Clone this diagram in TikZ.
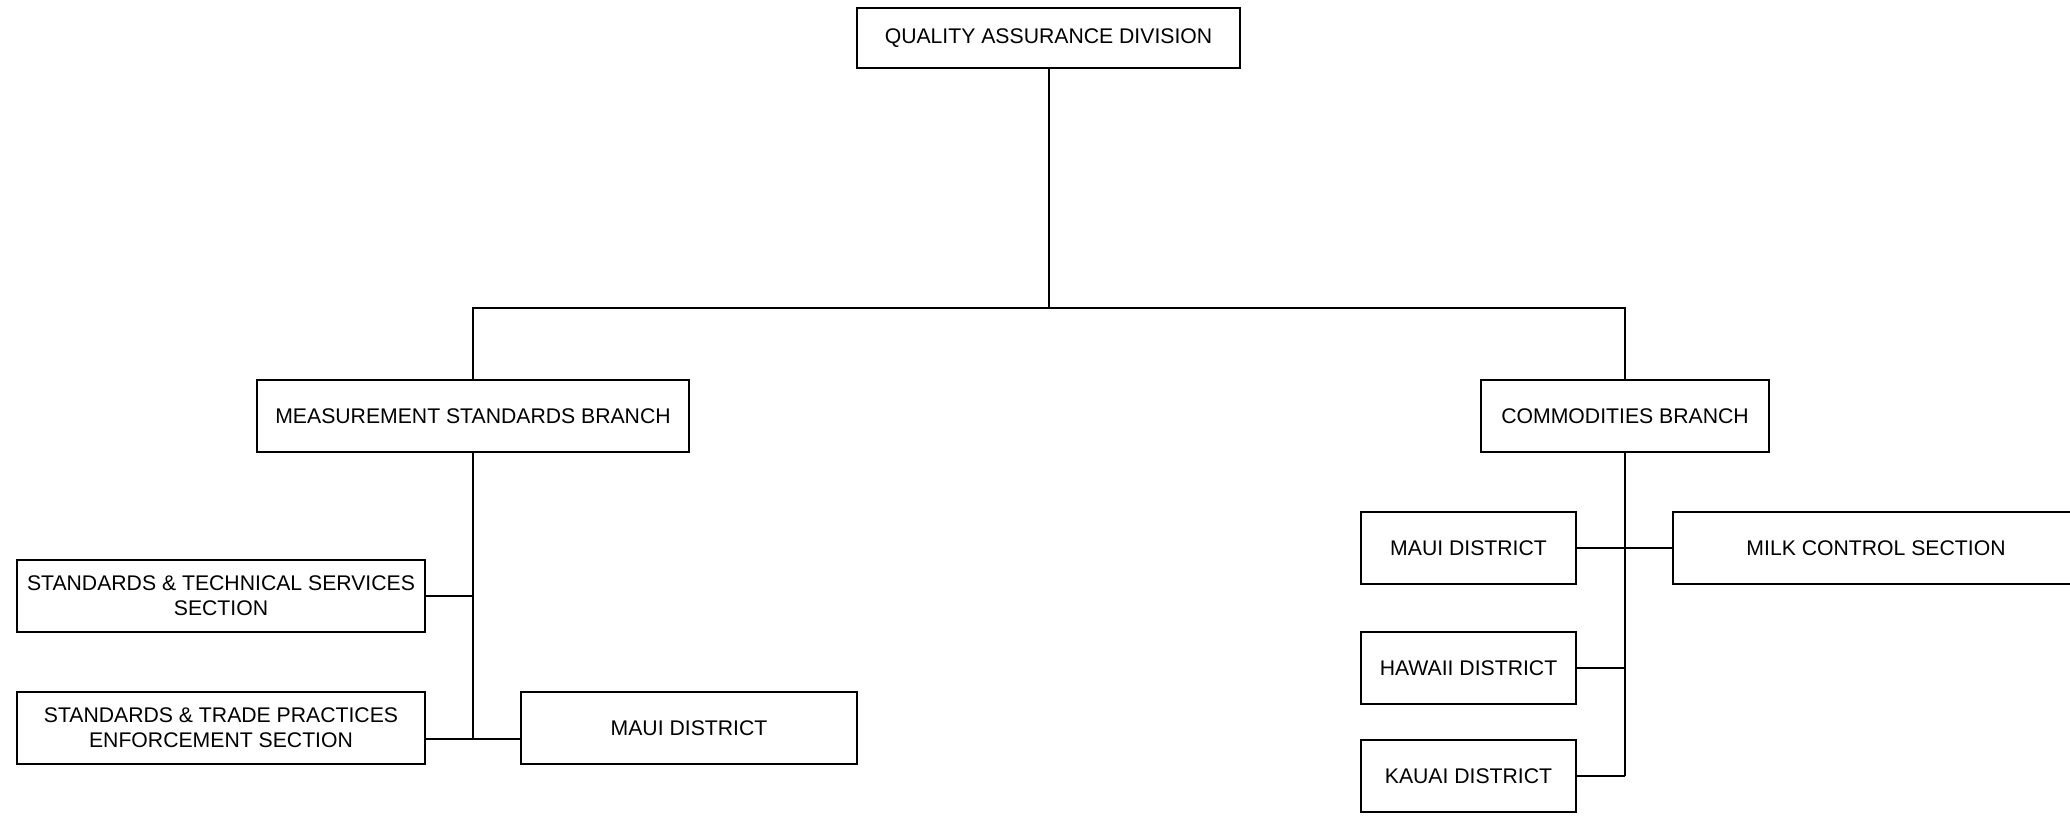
\documentclass[tikz,border=0pt]{standalone}
\usepackage{fontspec}
\setmainfont{Liberation Sans}
\usepackage{tikz}
\usetikzlibrary{positioning, calc}

\begin{document}
\begin{tikzpicture}[
    x=0.5pt, y=-0.5pt,
    unit/.style={draw, line width=1pt, inner sep=0pt, align=center,
                 minimum height=36pt, font=\fontsize{10.6}{12.5}\selectfont},
    link/.style={line width=1pt}
]
    \useasboundingbox (0,0) rectangle (2070,817);

    % Division
    \node[unit, minimum width=191.5pt, minimum height=30pt] (qad) at (1048.5, 38) {QUALITY ASSURANCE DIVISION};
    \coordinate (bus) at (1048.5, 308);

    % Branches
    \node[unit, minimum width=216pt] (msb) at (473, 416) {MEASUREMENT STANDARDS BRANCH};
    \node[unit, minimum width=144pt] (cb) at (1625, 416) {COMMODITIES BRANCH};

    % Measurement standards units
    \node[unit, minimum width=204pt] (sts) at (221, 596) {STANDARDS \& TECHNICAL SERVICES\\SECTION};
    \node[unit, minimum width=204pt] (stp) at (221, 728) {STANDARDS \& TRADE PRACTICES\\ENFORCEMENT SECTION};
    \node[unit, minimum width=168pt] (mauiA) at (689, 728) {MAUI DISTRICT};
    \coordinate (msbEnd) at (473, 739);

    % Commodities units
    \node[unit, minimum width=107.5pt] (mauiB) at (1468.5, 548) {MAUI DISTRICT};
    \node[unit, minimum width=203pt] (milk) at (1876, 548) {MILK CONTROL SECTION};
    \node[unit, minimum width=107.5pt] (hawaii) at (1468.5, 668) {HAWAII DISTRICT};
    \node[unit, minimum width=107.5pt] (kauai) at (1468.5, 776) {KAUAI DISTRICT};
    \coordinate (cbEnd) at (1625, 776);

    % Connectors
    \draw[link] (qad.south) -- (bus);
    \draw[link] (msb.north) |- (bus) -| (cb.north);

    \draw[link] (msb.south) -- (msbEnd);
    \draw[link] (sts.east) -- (sts.east -| msb.south);
    \draw[link] (stp.east |- msbEnd) -- (mauiA.west |- msbEnd);

    \draw[link] (cb.south) -- (cbEnd);
    \draw[link] (mauiB.east) -- (milk.west);
    \draw[link] (hawaii.east) -- (hawaii.east -| cb.south);
    \draw[link] (kauai.east) -- (cbEnd);

\end{tikzpicture}
\end{document}
